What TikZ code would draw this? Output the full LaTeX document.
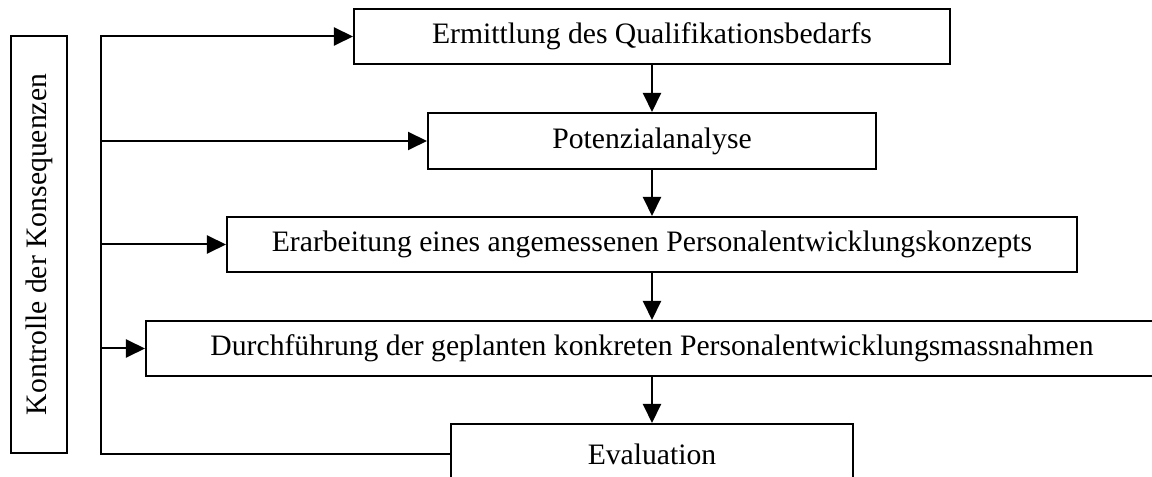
\documentclass[tikz,border=0pt]{standalone}
\usepackage{fontspec}
\setmainfont{Liberation Serif}
\usetikzlibrary{arrows.meta}
\begin{document}
\begin{tikzpicture}[x=0.25mm, y=-0.25mm,
  line width=0.5mm,
  every node/.style={font=\fontsize{21.1}{25}\selectfont},
  stepbox/.style={draw, line width=0.5mm, inner sep=0pt, align=center},
  arr/.style={-{Triangle[length=4.75mm, width=4.5mm]}}]
  \useasboundingbox (0,0) rectangle (1152,477);

  % side box
  \node[stepbox, minimum width=14mm, minimum height=104.25mm] (ctrl) at (39,244.5) {};
  \node[rotate=90, inner sep=0pt] (ctrltext) at (ctrl.center) {Kontrolle der Konsequenzen};

  % process steps
  \node[stepbox, minimum width=149mm, minimum height=13.75mm] (e1) at (652,36.5) {Ermittlung des Qualifikationsbedarfs};
  \node[stepbox, minimum width=112mm, minimum height=14mm] (e2) at (652,141) {Potenzialanalyse};
  \node[stepbox, minimum width=212.5mm, minimum height=13.75mm] (e3) at (652,244.5) {Erarbeitung eines angemessenen Personalentwicklungskonzepts};
  \node[stepbox, minimum width=253mm, minimum height=13.75mm] (e4) at (652,348.5) {Durchführung der geplanten konkreten Personalentwicklungsmassnahmen};
  \node[stepbox, minimum width=100.5mm, minimum height=15mm] (e5) at (652,454) {Evaluation};

  % downward flow
  \draw[arr] (e1.south) -- (e2.north);
  \draw[arr] (e2.south) -- (e3.north);
  \draw[arr] (e3.south) -- (e4.north);
  \draw[arr] (e4.south) -- (e5.north);

  % feedback bus
  \coordinate (bx) at (101,0);
  \draw[arr] (e5.west) -| (bx |- e1.west) -- (e1.west);
  \draw[arr] (bx |- e2.west) -- (e2.west);
  \draw[arr] (bx |- e3.west) -- (e3.west);
  \draw[arr] (bx |- e4.west) -- (e4.west);
\end{tikzpicture}
\end{document}
